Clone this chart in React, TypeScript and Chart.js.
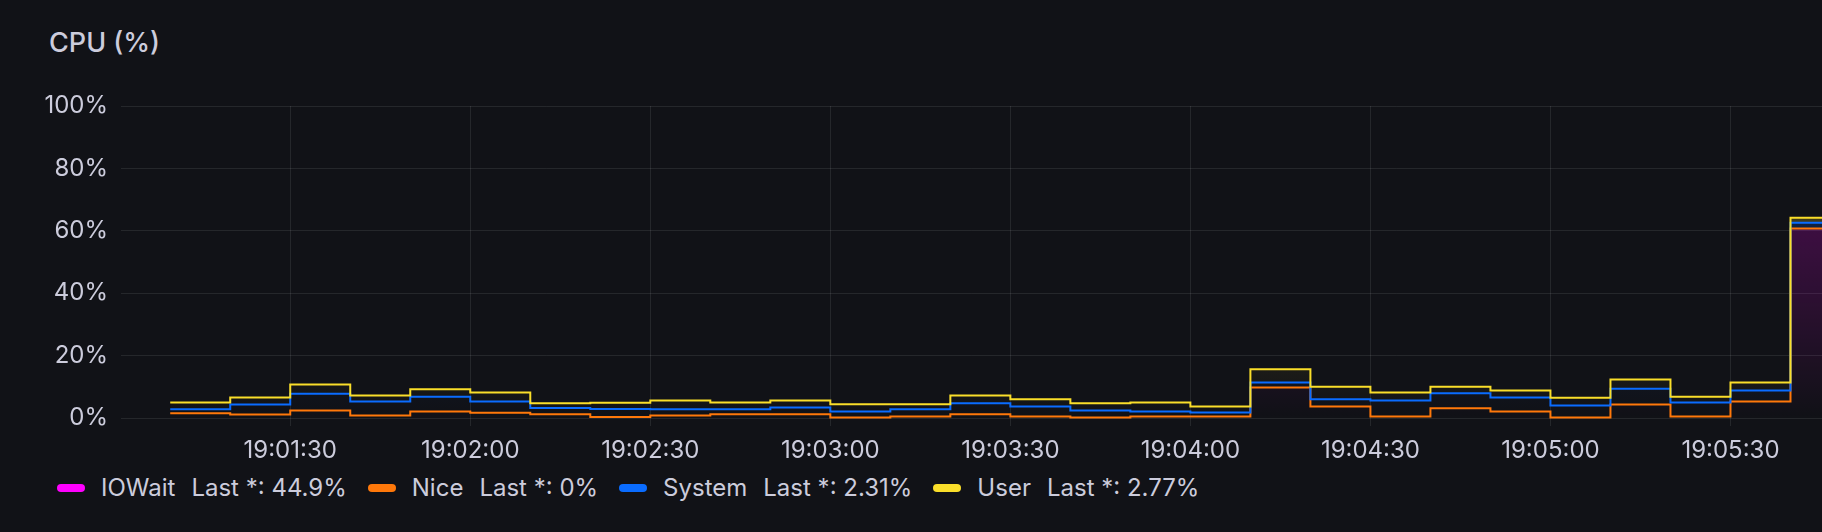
import React, { useEffect, useRef } from "react";
import { Chart, registerables } from "chart.js";

Chart.register(...registerables);

// seconds after 19:00:00, one sample every 10 s
const TIMES = [70, 80, 90, 100, 110, 120, 130, 140, 150, 160, 170, 180, 190, 200, 210, 220, 230, 240, 250, 260, 270, 280, 290, 300, 310, 320, 330, 340];

const IOWAIT = [1.5, 1.1, 2.4, 0.8, 2.1, 1.7, 1.2, 0.3, 0.8, 1.2, 1.2, 0.2, 0.5, 1.2, 0.5, 0.2, 0.5, 0.5, 9.8, 3.7, 0.5, 3.1, 2.1, 0.2, 4.3, 0.5, 5.3, 60.7];
const NICE = [0, 0, 0, 0, 0, 0, 0, 0, 0, 0, 0, 0, 0, 0, 0, 0, 0, 0, 0, 0, 0, 0, 0, 0, 0, 0, 0, 0];
const SYSTEM = [1.3, 3.2, 5.4, 4.5, 4.7, 3.6, 2.0, 2.6, 2.0, 1.6, 2.2, 1.9, 2.3, 3.5, 3.2, 2.2, 1.6, 1.3, 1.6, 2.3, 5.1, 4.8, 4.5, 3.8, 5.1, 4.5, 3.5, 1.9];
const USER = [2.2, 2.3, 2.9, 1.9, 2.4, 2.9, 1.5, 2.0, 2.8, 2.2, 2.2, 2.3, 1.6, 2.5, 2.3, 2.3, 2.9, 1.9, 4.2, 4.0, 2.6, 2.1, 2.2, 2.5, 2.9, 1.8, 2.6, 1.6];

const SERIES_NAMES = ["IOWait", "Nice", "System", "User"];
const SERIES_LAST = ["44.9%", "0%", "2.31%", "2.77%"];
const SERIES_COLORS = ["#FF00FF", "#FF780A", "#0A6CFF", "#FADE2A"];
// IOWait's own line is hidden under Nice in the original, only its fill shows
const SERIES_SHOW_LINE = [false, true, true, true];

const X_MIN = 61.8;
const X_MAX = 345.25;
const X_TICKS = [90, 120, 150, 180, 210, 240, 270, 300, 330];
const X_TICK_LABELS = ["19:01:30", "19:02:00", "19:02:30", "19:03:00", "19:03:30", "19:04:00", "19:04:30", "19:05:00", "19:05:30"];
const Y_TICKS = [0, 20, 40, 60, 80, 100];
const Y_TICK_LABELS = ["0%", "20%", "40%", "60%", "80%", "100%"];

const TITLE = "CPU (%)";

const BG = "#111217";
const TEXT = "#ccccdc";
const GRID = "rgba(240, 250, 255, 0.09)";
const FONT = "Inter, 'Noto Sans', sans-serif";

function hexToRgb(hex: string) {
  const h = hex.replace("#", "");
  return [parseInt(h.slice(0, 2), 16), parseInt(h.slice(2, 4), 16), parseInt(h.slice(4, 6), 16)];
}

function gradientFill(chart: any, color: string) {
  const area = chart.chartArea;
  if (!area) return "transparent";
  const [r, g, b] = hexToRgb(color);
  const grad = chart.ctx.createLinearGradient(0, area.top, 0, area.bottom);
  grad.addColorStop(0, `rgba(${r},${g},${b},0.3)`);
  grad.addColorStop(1, `rgba(${r},${g},${b},0)`);
  return grad;
}

const drawOrderPlugin = {
  id: "drawOrder",
  beforeDatasetsDraw(chart: any) {
    const ctx = chart.ctx;
    const a = chart.chartArea;
    ctx.save();
    ctx.beginPath();
    ctx.rect(a.left, a.top - 3, a.right - a.left, a.bottom - a.top + 6);
    ctx.clip();
    const metas = chart.getSortedVisibleDatasetMetas();
    for (const m of metas) m.controller.draw();
    ctx.restore();
    return false;
  },
};

export default function App() {
  const canvasRef = useRef<HTMLCanvasElement | null>(null);

  useEffect(() => {
    document.body.style.margin = "0";
    document.body.style.background = BG;
    const canvas = canvasRef.current;
    if (!canvas) return;
    const seriesValues = [IOWAIT, NICE, SYSTEM, USER];
    const datasets = seriesValues.map((vals, i) => {
      const pts = TIMES.map((t, j) => ({ x: t, y: vals[j] }));
      // hold the last sample until the right edge of the time range
      pts.push({ x: X_MAX, y: vals[vals.length - 1] });
      return {
        label: SERIES_NAMES[i],
        data: pts,
        borderColor: SERIES_SHOW_LINE[i] ? SERIES_COLORS[i] : "rgba(0,0,0,0)",
        borderWidth: SERIES_SHOW_LINE[i] ? 2 : 0,
        backgroundColor: (c: any) => gradientFill(c.chart, SERIES_COLORS[i]),
        fill: i === 0 ? "origin" : "-1",
        stepped: true,
        pointRadius: 0,
        pointHoverRadius: 0,
        borderJoinStyle: "miter",
        tension: 0,
      };
    });

    const chart = new Chart(canvas, {
      type: "line",
      data: { datasets } as any,
      options: {
        responsive: false,
        animation: false,
        devicePixelRatio: 1,
        events: [],
        layout: { padding: { left: 0, right: 0, top: 106, bottom: 0 } },
        plugins: {
          legend: { display: false },
          tooltip: { enabled: false },
          title: { display: false },
          filler: { drawTime: "beforeDatasetsDraw" },
        },
        scales: {
          x: {
            type: "linear",
            min: X_MIN,
            max: X_MAX,
            border: { display: false },
            grid: { color: GRID, tickColor: GRID, drawTicks: true, tickLength: 8, lineWidth: 1 },
            ticks: {
              color: TEXT,
              font: { family: FONT, size: 24 },
              padding: 10,
              maxRotation: 0,
              autoSkip: false,
              callback: (v: any) => {
                const idx = X_TICKS.indexOf(Number(v));
                return idx >= 0 ? X_TICK_LABELS[idx] : "";
              },
            },
            afterBuildTicks: (s: any) => {
              s.ticks = X_TICKS.map((v) => ({ value: v }));
            },
            afterFit: (s: any) => {
              s.height = 52;
            },
          },
          y: {
            stacked: true,
            min: 0,
            max: 100,
            border: { display: false },
            grid: { color: GRID, drawTicks: false, lineWidth: 1 },
            ticks: {
              color: TEXT,
              font: { family: FONT, size: 24 },
              padding: 13,
              callback: (v: any) => {
                const idx = Y_TICKS.indexOf(Number(v));
                return idx >= 0 ? Y_TICK_LABELS[idx] : "";
              },
            },
            afterBuildTicks: (s: any) => {
              s.ticks = Y_TICKS.map((v) => ({ value: v }));
            },
            afterFit: (s: any) => {
              s.width = 121;
            },
          },
        },
      } as any,
      plugins: [drawOrderPlugin as any],
    });
    return () => chart.destroy();
  }, []);

  return (
    <div style={{ position: "absolute", left: 0, top: 0, width: 1822, height: 532, background: BG, overflow: "hidden", fontFamily: FONT }}>
      <div style={{ position: "absolute", left: 49, top: 28.5, fontSize: 27, lineHeight: "28px", fontWeight: 500, color: TEXT, whiteSpace: "nowrap" }}>
        {TITLE}
      </div>
      <canvas ref={canvasRef} width={1822} height={470} style={{ position: "absolute", left: 0, top: 0, width: 1822, height: 470 }} />
      <div style={{ position: "absolute", left: 57, top: 476, display: "flex", alignItems: "center", fontSize: 24, lineHeight: "24px", color: TEXT, whiteSpace: "nowrap" }}>
        {SERIES_NAMES.map((name, i) => (
          <div key={name} style={{ display: "flex", alignItems: "center", marginRight: 21 }}>
            <div style={{ width: 28, height: 8, borderRadius: 4, background: SERIES_COLORS[i], marginRight: 16 }} />
            <span>{name}</span>
            <span style={{ marginLeft: 16 }}>{"Last *: " + SERIES_LAST[i]}</span>
          </div>
        ))}
      </div>
    </div>
  );
}
